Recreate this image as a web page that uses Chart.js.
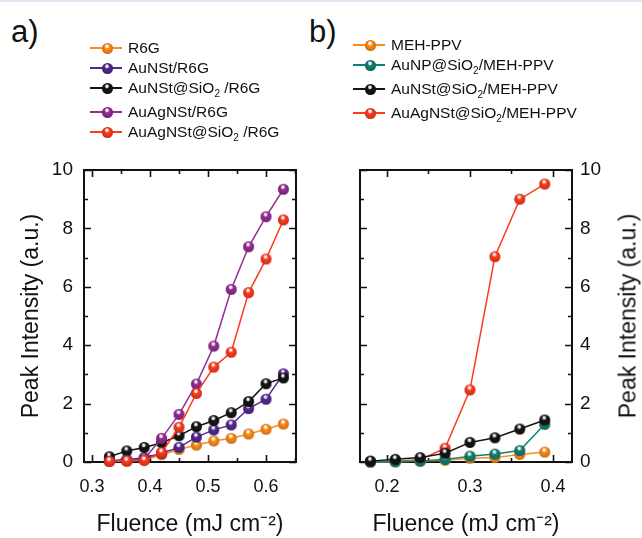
<!DOCTYPE html>
<html>
<head>
<meta charset="utf-8">
<script src="https://cdn.jsdelivr.net/npm/chart.js@4/dist/chart.umd.min.js"></script>
<style>
  html, body { margin: 0; padding: 0; background: #fff; }
  body { width: 642px; height: 538px; position: relative; overflow: hidden; font-family: "Liberation Sans", Arial, sans-serif; color: #111; }
  .topline { position: absolute; left: 0; top: 0; width: 642px; height: 2px; background: #dde8f4; }
  canvas { position: absolute; top: 0; }
  .tag { position: absolute; font-size: 31px; line-height: 1; }
  .legend { position: absolute; font-size: 15.5px; }
  .legend .row { display: flex; align-items: flex-start; height: 20px; line-height: 20px; white-space: nowrap; }
  .legend .row.sub { height: 24px; }
  .legend .key { position: relative; width: 32px; height: 20px; margin-right: 6px; flex: none; }
  .legend .key .ln { position: absolute; left: 0; right: 0; top: 9px; height: 2px; }
  .legend .key img { position: absolute; left: 11px; top: 4px; }
  .legend sub { font-size: 10px; vertical-align: -4px; line-height: 0; }
  .ytitle-r { position: absolute; left: 628px; top: 316px; font-size: 23px; white-space: nowrap; transform: translate(-50%, -50%) rotate(-90deg); }
</style>
</head>
<body>
<div class="topline"></div>
<div class="tag" style="left:11px; top:16px">a)</div>
<div class="tag" style="left:309px; top:16px">b)</div>
<canvas id="chartA" width="320" height="538" style="left:0"></canvas>
<canvas id="chartB" width="322" height="538" style="left:320px"></canvas>
<div class="legend" id="legendA" style="left:90px; top:38px"></div>
<div class="legend" id="legendB" style="left:353px; top:35px"></div>
<div class="ytitle-r">Peak Intensity (a.u.)</div>
<script>
// Panel a: R6G with the various nanostar fillers
const fluenceA = [0.33, 0.36, 0.39, 0.42, 0.45, 0.48, 0.51, 0.54, 0.57, 0.60, 0.63];
const r6g = [0.02, 0.03, 0.08, 0.25, 0.43, 0.58, 0.72, 0.81, 0.96, 1.12, 1.30];
const auNStR6g = [0.05, 0.08, 0.15, 0.30, 0.50, 0.85, 1.10, 1.27, 1.83, 2.15, 3.02];
const auNStSiO2R6g = [0.18, 0.38, 0.50, 0.66, 0.90, 1.21, 1.42, 1.69, 2.07, 2.68, 2.88];
const auAgNStR6g = [0.02, 0.05, 0.10, 0.81, 1.63, 2.67, 3.97, 5.91, 7.37, 8.40, 9.34];
const auAgNStSiO2R6g = [0.02, 0.03, 0.05, 0.32, 1.19, 2.35, 3.25, 3.76, 5.80, 6.95, 8.29];

// Panel b: MEH-PPV
const fluenceB = [0.18, 0.21, 0.24, 0.27, 0.30, 0.33, 0.36, 0.39];
const mehPpv = [0.00, 0.01, 0.03, 0.06, 0.13, 0.15, 0.26, 0.34];
const auNPSiO2Meh = [0.00, 0.01, 0.03, 0.09, 0.20, 0.27, 0.39, 1.29];
const auNStSiO2Meh = [0.03, 0.09, 0.15, 0.30, 0.67, 0.83, 1.13, 1.44];
const auAgNStSiO2Meh = [0.01, 0.03, 0.08, 0.47, 2.47, 7.03, 9.00, 9.52];

// tick labels
const xTicksA = [0.3, 0.4, 0.5, 0.6];
const xTicksB = [0.2, 0.3, 0.4];
const yTicks = [0, 2, 4, 6, 8, 10];

const ORANGE = "#ff8c1a", PURPLE = "#55288f", BLACK = "#151515", MAGENTA = "#962d96", RED = "#ff3b1e", TEAL = "#108272";
const FONT = "'Liberation Sans', Arial, sans-serif";

// shaded sphere used as point marker
function ball(color, r) {
  const c = document.createElement("canvas");
  c.width = c.height = Math.ceil(r * 2 + 2);
  const g = c.getContext("2d");
  const m = c.width / 2;
  g.beginPath(); g.arc(m, m, r, 0, Math.PI * 2); g.fillStyle = color; g.fill();
  const shade = g.createRadialGradient(m, m - r * 0.3, r * 0.4, m, m, r);
  shade.addColorStop(0, "rgba(0,0,0,0)");
  shade.addColorStop(1, "rgba(0,0,0,0.22)");
  g.fillStyle = shade; g.fill();
  const hl = g.createRadialGradient(m - r * 0.1, m - r * 0.4, 0, m - r * 0.1, m - r * 0.4, r * 0.45);
  hl.addColorStop(0, "rgba(255,255,255,1)");
  hl.addColorStop(0.5, "rgba(255,255,255,0.85)");
  hl.addColorStop(1, "rgba(255,255,255,0)");
  g.fillStyle = hl; g.fill();
  return c;
}

function series(label, xs, ys, color, order) {
  return {
    label, color, order,
    data: xs.map((x, i) => ({ x, y: ys[i] })),
    borderColor: color, borderWidth: 1.5,
    pointStyle: ball(color, 5.5), pointRadius: 6,
    clip: false, tension: 0,
  };
}

// box frame with inward major/minor ticks on all four sides
const frame = {
  id: "frame",
  beforeDatasetsDraw(chart, args, opts) {
    const { ctx, chartArea: a, scales: { x, y } } = chart;
    ctx.save();
    ctx.strokeStyle = "#111";
    ctx.lineWidth = 1.6;
    const near = (v, arr) => arr.some((t) => Math.abs(t.value - v) < 1e-6);
    for (let v = Math.ceil(x.min / opts.xMinor - 1e-9) * opts.xMinor; v <= x.max; v += opts.xMinor) {
      const px = Math.round(x.getPixelForValue(v)) + 0.5;
      const len = near(v, x.ticks) ? 7 : 4;
      ctx.beginPath();
      ctx.moveTo(px, a.bottom); ctx.lineTo(px, a.bottom - len);
      ctx.moveTo(px, a.top); ctx.lineTo(px, a.top + len);
      ctx.stroke();
    }
    for (let v = 0; v <= y.max + 1e-9; v += opts.yMinor) {
      const py = Math.round(y.getPixelForValue(v)) + 0.5;
      const len = near(v, y.ticks) ? 7 : 4;
      ctx.beginPath();
      ctx.moveTo(a.left, py); ctx.lineTo(a.left + len, py);
      ctx.moveTo(a.right, py); ctx.lineTo(a.right - len, py);
      ctx.stroke();
    }
    ctx.lineWidth = 2;
    ctx.strokeRect(a.left, a.top, a.right - a.left, a.bottom - a.top);
    ctx.restore();
  },
};

function xScale(min, max, ticks) {
  return {
    type: "linear", position: "bottom", min, max,
    afterFit: (s) => { s.height = 76; },
    afterBuildTicks: (s) => { s.ticks = ticks.map((value) => ({ value })); },
    grid: { display: false, drawTicks: false },
    border: { display: false },
    ticks: { font: { family: FONT, size: 18 }, color: "#111", padding: 14, callback: (v) => v.toFixed(1) },
    title: { display: true, text: "Fluence (mJ cm\u207B\u00B2)", font: { family: FONT, size: 23 }, color: "#111", padding: { top: 0, bottom: 0 } },
  };
}

function yScale(position, width, title) {
  return {
    type: "linear", position, min: 0, max: 10,
    afterFit: (s) => { s.width = width; },
    afterBuildTicks: (s) => { s.ticks = yTicks.map((value) => ({ value })); },
    grid: { display: false, drawTicks: false },
    border: { display: false },
    ticks: { font: { family: FONT, size: 19 }, color: "#111", padding: position === "left" ? 11 : 8 },
    title: { display: title, text: "Peak Intensity (a.u.)", font: { family: FONT, size: 23 }, color: "#111", padding: { top: 18, bottom: 0 } },
  };
}

function makeChart(id, datasets, x, y, pad) {
  return new Chart(document.getElementById(id), {
    type: "line",
    data: { datasets },
    options: {
      responsive: false, animation: false, events: [],
      layout: { padding: pad },
      plugins: { legend: { display: false }, tooltip: { enabled: false }, frame: { xMinor: 0.05, yMinor: 1 } },
      scales: { x, y },
    },
    plugins: [frame],
  });
}

const chartA = makeChart("chartA", [
  series("R6G", fluenceA, r6g, ORANGE, 5),
  series("AuNSt/R6G", fluenceA, auNStR6g, PURPLE, 4),
  series("AuNSt@SiO\u2082 /R6G", fluenceA, auNStSiO2R6g, BLACK, 3),
  series("AuAgNSt/R6G", fluenceA, auAgNStR6g, MAGENTA, 2),
  series("AuAgNSt@SiO\u2082 /R6G", fluenceA, auAgNStSiO2R6g, RED, 1),
], xScale(0.2862, 0.6517, xTicksA), yScale("left", 84, true), { top: 170, right: 24, left: 0, bottom: 0 });

const chartB = makeChart("chartB", [
  series("MEH-PPV", fluenceB, mehPpv, ORANGE, 3),
  series("AuNP@SiO\u2082/MEH-PPV", fluenceB, auNPSiO2Meh, TEAL, 2),
  series("AuNSt@SiO\u2082/MEH-PPV", fluenceB, auNStSiO2Meh, BLACK, 1),
  series("AuAgNSt@SiO\u2082/MEH-PPV", fluenceB, auAgNStSiO2Meh, RED, 4),
], xScale(0.1675, 0.4229, xTicksB), yScale("right", 70, false), { top: 170, right: 0, left: 40, bottom: 0 });

// html legend built from the datasets
function legend(chart, hostId) {
  const host = document.getElementById(hostId);
  for (const ds of chart.data.datasets) {
    const row = document.createElement("div");
    const hasSub = ds.label.includes("\u2082");
    row.className = "row" + (hasSub ? " sub" : "");
    const key = document.createElement("div");
    key.className = "key";
    const ln = document.createElement("div");
    ln.className = "ln"; ln.style.background = ds.color;
    const img = new Image();
    img.src = ball(ds.color, 5.5).toDataURL();
    key.append(ln, img);
    const txt = document.createElement("span");
    txt.innerHTML = ds.label.replace("\u2082", "<sub>2</sub>");
    row.append(key, txt);
    host.append(row);
  }
}
legend(chartA, "legendA");
legend(chartB, "legendB");
</script>
</body>
</html>
